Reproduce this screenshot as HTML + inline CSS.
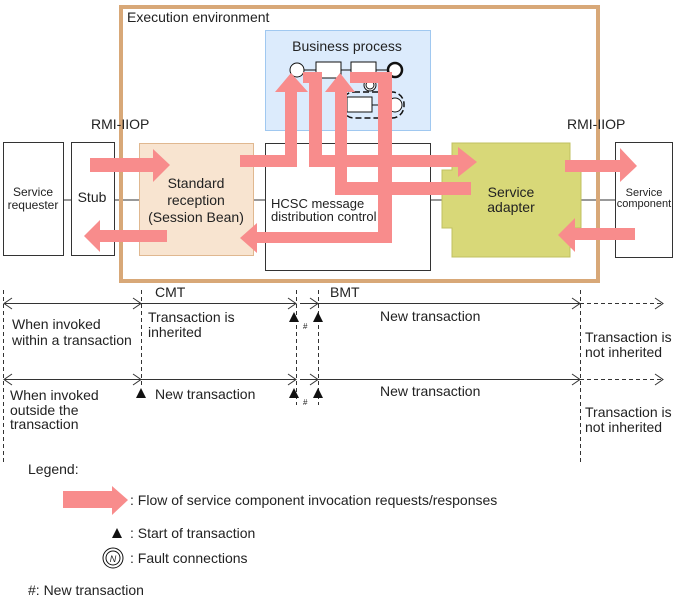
<!DOCTYPE html>
<html><head><meta charset="utf-8"><style>
html,body{margin:0;padding:0;background:#fff}
svg{display:block}
text{font-family:"Liberation Sans",Arial,sans-serif;font-size:14px;fill:#222}
</style></head><body>
<svg width="681" height="603" viewBox="0 0 681 603" xmlns="http://www.w3.org/2000/svg">
<g stroke="#333" stroke-width="1">
<line x1="63" y1="200" x2="71" y2="200"/>
<line x1="114" y1="200" x2="139" y2="200"/>
<line x1="253" y1="200" x2="265" y2="200"/>
<line x1="430" y1="200" x2="445" y2="200"/>
<line x1="578" y1="200" x2="615" y2="200"/>
</g>
<rect x="121" y="7" width="477" height="274" fill="none" stroke="#d8a878" stroke-width="4"/>
<text x="127" y="22">Execution environment</text>
<rect x="3.5" y="142.5" width="60" height="113" fill="#fff" stroke="#333"/>
<text x="33" y="196" text-anchor="middle" style="font-size:12px">Service</text>
<text x="33" y="209" text-anchor="middle" style="font-size:12px">requester</text>
<rect x="71.5" y="142.5" width="43" height="113" fill="#fff" stroke="#333"/>
<text x="92" y="202" text-anchor="middle">Stub</text>
<rect x="139.5" y="143.5" width="114" height="112" fill="#f8e4d0" stroke="#e0b890"/>
<text x="196" y="188" text-anchor="middle">Standard</text>
<text x="196" y="205" text-anchor="middle">reception</text>
<text x="196" y="222" text-anchor="middle">(Session Bean)</text>
<rect x="265.5" y="143.5" width="165" height="127" fill="#fff" stroke="#333"/>
<text x="271" y="208" style="font-size:13px">HCSC message</text>
<text x="271" y="221" style="font-size:13px">distribution control</text>
<rect x="265.5" y="30.5" width="165" height="100" fill="#dcebfc" stroke="#a0c8f0"/>
<text x="347" y="51" text-anchor="middle">Business process</text>
<polygon points="452,143 570,143 570,170 581,170 581,228 570,228 570,257 452,257 452,228 442,228 442,170 452,170" fill="#d8d878" stroke="#c0c060"/>
<text x="511" y="197" text-anchor="middle">Service</text>
<text x="511" y="212" text-anchor="middle">adapter</text>
<rect x="615.5" y="142.5" width="57" height="115" fill="#fff" stroke="#333"/>
<text x="644" y="196" text-anchor="middle" style="font-size:11px">Service</text>
<text x="644" y="207" text-anchor="middle" style="font-size:11px">component</text>
<text x="91" y="129">RMI-IIOP</text>
<text x="567" y="129">RMI-IIOP</text>
<g stroke="#111" fill="#fff">
<line x1="297" y1="70" x2="395" y2="70"/>
<circle cx="297" cy="70" r="7"/>
<rect x="316" y="62" width="25" height="16"/>
<rect x="351" y="62" width="25" height="16"/>
<circle cx="395" cy="70" r="7" stroke-width="2.5"/>
<rect x="342" y="92" width="62" height="26" rx="12" fill="none" stroke-dasharray="6,3" stroke-width="1.5"/>
<line x1="372" y1="105" x2="395" y2="105"/>
<rect x="347" y="97" width="25" height="15"/>
<circle cx="395" cy="105" r="7"/>
<circle cx="370" cy="85" r="6"/>
<circle cx="370" cy="85" r="4"/>
</g>
<g fill="#f88c8c">
<polygon points="90,158 153,158 153,149 170,165 153,182 153,172 90,172"/>
<polygon points="167,230 100,230 100,220 84,236 100,252 100,242 167,242"/>
<polygon points="303,72 322,72 322,155 458,155 458,147 477,162 458,177 458,167 309,167 309,83 303,83"/>
<polygon points="240,155 285,155 285,92 275,92 291,73 308,92 297,92 297,167 240,167"/>
<polygon points="471,182 471,195 335,195 335,92 325,92 340,73 355,92 347,92 347,182"/>
<polygon points="350,72 392,72 392,243 257,243 257,253 240,238 257,223 257,232 378,232 378,83 350,83"/>
<polygon points="565,160 620,160 620,148 637,166 620,182 620,172 565,172"/>
<polygon points="635,228 575,228 575,218 558,235 575,252 575,240 635,240"/>
</g>
<g stroke="#333" stroke-width="1" stroke-dasharray="4,3">
<line x1="3.5" y1="290" x2="3.5" y2="462"/>
<line x1="141.5" y1="290" x2="141.5" y2="385"/>
<line x1="296.5" y1="290" x2="296.5" y2="405"/>
<line x1="318.5" y1="290" x2="318.5" y2="405"/>
<line x1="580.5" y1="290" x2="580.5" y2="462"/>
<line x1="580" y1="303.5" x2="662" y2="303.5"/>
<line x1="580" y1="379.5" x2="662" y2="379.5"/>
</g>
<g stroke="#333" stroke-width="1" fill="none">
<line x1="4" y1="303.5" x2="296" y2="303.5"/>
<line x1="300" y1="303.5" x2="580" y2="303.5"/>
<line x1="4" y1="379.5" x2="296" y2="379.5"/>
<line x1="300" y1="379.5" x2="580" y2="379.5"/>
<path d="M12,298 L4,303.5 L12,309 M133,298 L141,303.5 L133,309 M288,298 L296,303.5 L288,309 M310,298 L318,303.5 L310,309 M572,298 L580,303.5 L572,309 M655,298 L663,303.5 L655,309"/>
<path d="M12,374 L4,379.5 L12,385 M133,374 L141,379.5 L133,385 M288,374 L296,379.5 L288,385 M310,374 L318,379.5 L310,385 M572,374 L580,379.5 L572,385 M655,374 L663,379.5 L655,385"/>
</g>
<g fill="#111">
<polygon points="294,312 289,322 299,322"/>
<polygon points="318,312 313,322 323,322"/>
<polygon points="141,388 136,398 146,398"/>
<polygon points="294,388 289,398 299,398"/>
<polygon points="318,388 313,398 323,398"/>
<polygon points="117,528 112,538 122,538"/>
</g>
<text x="303" y="329" style="font-size:8px">#</text>
<text x="303" y="405" style="font-size:8px">#</text>
<text x="155" y="297">CMT</text>
<text x="330" y="297">BMT</text>
<text x="12" y="329">When invoked</text>
<text x="12" y="345">within a transaction</text>
<text x="148" y="322">Transaction is</text>
<text x="148" y="337">inherited</text>
<text x="380" y="321">New transaction</text>
<text x="585" y="342">Transaction is</text>
<text x="585" y="357">not inherited</text>
<text x="10" y="400">When invoked</text>
<text x="10" y="415">outside the</text>
<text x="10" y="429">transaction</text>
<text x="155" y="399">New transaction</text>
<text x="380" y="396">New transaction</text>
<text x="585" y="417">Transaction is</text>
<text x="585" y="432">not inherited</text>
<text x="28" y="474">Legend:</text>
<polygon points="63,491 112,491 112,486 128,500 112,515 112,508 63,508" fill="#f88c8c"/>
<text x="130" y="505">: Flow of service component invocation requests/responses</text>
<text x="130" y="538">: Start of transaction</text>
<circle cx="113" cy="558" r="10" fill="none" stroke="#111"/>
<circle cx="113" cy="558" r="7" fill="none" stroke="#111"/>
<text x="113" y="562" text-anchor="middle" style="font-size:9px;font-style:italic">N</text>
<text x="130" y="563">: Fault connections</text>
<text x="28" y="595">#: New transaction</text>
</svg>
</body></html>
